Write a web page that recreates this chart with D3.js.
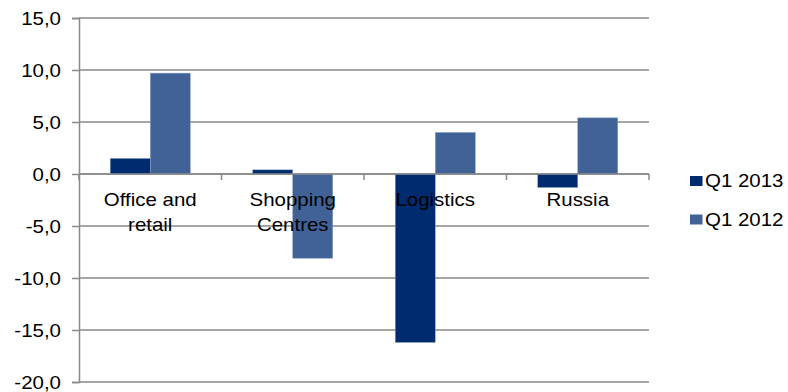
<!DOCTYPE html>
<html><head><meta charset="utf-8">
<script src="https://cdn.jsdelivr.net/npm/d3@7"></script>
<style>body{margin:0;background:#fff}text{font-family:"Liberation Sans",Arial,sans-serif;fill:#000}</style>
</head><body><svg id="c" width="788" height="392"></svg>
<script>
const categories = [["Office and","retail"],["Shopping","Centres"],["Logistics"],["Russia"]];
const seriesNames = ["Q1 2013","Q1 2012"];
const q12013 = [1.5, 0.4, -16.2, -1.3];
const q12012 = [9.7, -8.1, 4.0, 5.4];
const yTicks = [15,10,5,0,-5,-10,-15,-20];
const colors = ["#002b6f","#416296"];

(function(){
const FS = 18.6, SX = 1.1;
const svg = d3.select("#c");
const pL = 79, pR = 649, pT = 18, pB = 382;
const y = d3.scaleLinear().domain([-20,15]).range([pB, pT]);
const x = d3.scaleBand().domain(d3.range(categories.length)).range([pL,pR]).paddingInner(0).paddingOuter(0);
const xs = d3.scaleBand().domain(d3.range(2)).range([0, x.bandwidth()]).paddingOuter(0.78).paddingInner(0);
const fmt = d => d3.format(".1f")(d).replace(".", ",").replace("−","-");

function txt(g, tx, ty, s, anchor) {
  return g.append("text").attr("transform", `translate(${tx},${ty}) scale(${SX},1)`)
    .attr("text-anchor", anchor).attr("font-size", FS).text(s);
}

svg.append("g").selectAll("line").data(yTicks).join("line")
  .attr("x1", pL).attr("x2", pR).attr("y1", d=>y(d)).attr("y2", d=>y(d))
  .attr("stroke", "#898989").attr("stroke-width", 1.5);

const yAxis = d3.axisLeft(y).tickValues(yTicks).tickSize(7).tickFormat(fmt);
const ga = svg.append("g").attr("transform", `translate(${pL},0)`).call(yAxis);
ga.select(".domain").attr("stroke","#898989").attr("stroke-width",1.5);
ga.selectAll(".tick line").attr("stroke","#898989").attr("stroke-width",1.5);
ga.selectAll(".tick text")
  .attr("x", null).attr("dy", null).attr("y", 6.5)
  .attr("transform", `translate(-18,0) scale(${SX},1)`)
  .attr("font-size", FS).attr("font-family","Liberation Sans, Arial, sans-serif").attr("fill","#000");

const data = [q12013, q12012];
data.forEach((vals, si) => {
  svg.append("g").selectAll("rect").data(vals).join("rect")
    .attr("x", (d,i)=> x(i) + xs(si))
    .attr("width", xs.bandwidth())
    .attr("y", d => y(Math.max(0,d)))
    .attr("height", d => Math.abs(y(d) - y(0)))
    .attr("fill", colors[si])
    .attr("stroke", "#8fa3c3").attr("stroke-width", 0.5);
});

svg.append("line").attr("x1",pL).attr("x2",pR).attr("y1",y(0)).attr("y2",y(0))
  .attr("stroke","#898989").attr("stroke-width",1.5);
const bounds = d3.range(categories.length+1).map(i => pL + i*x.step());
svg.append("g").selectAll("line").data(bounds).join("line")
  .attr("x1",d=>d).attr("x2",d=>d).attr("y1",y(0)).attr("y2",y(0)+6)
  .attr("stroke","#898989").attr("stroke-width",1.5);

const lg = svg.append("g");
categories.forEach((lines, i) => {
  lines.forEach((l,k) => txt(lg, x(i)+x.bandwidth()/2, 206 + k*24.7, l, "middle"));
});

seriesNames.forEach((n, i) => {
  const ly = 176 + i*38.5;
  svg.append("rect").attr("x",690).attr("y",ly).attr("width",12.5).attr("height",10).attr("fill",colors[i]);
  txt(svg, 705, ly + 11.3, n, "start");
});
})();
</script></body></html>
